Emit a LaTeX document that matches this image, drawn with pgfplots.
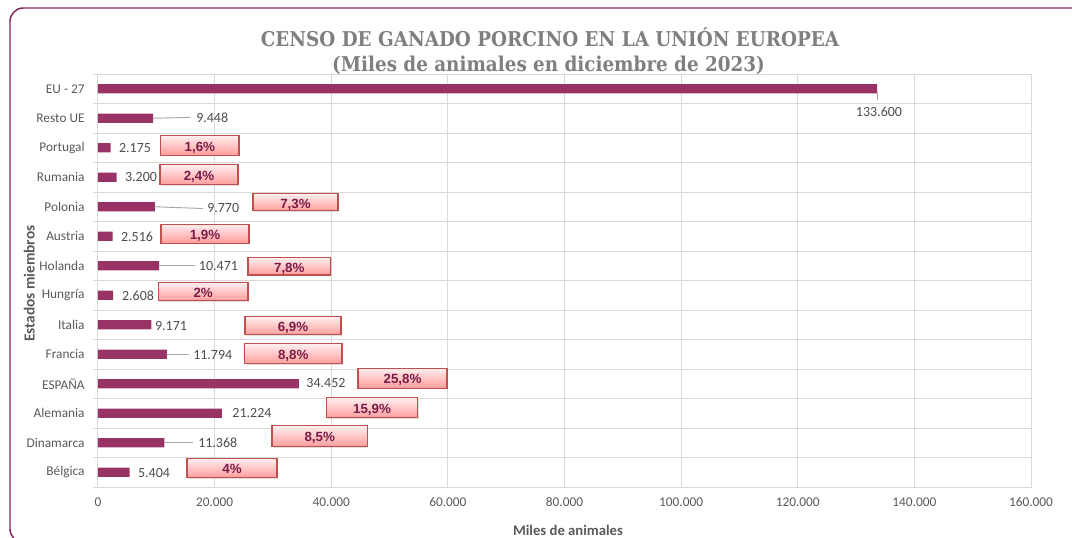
\documentclass[border=0pt]{standalone}
\usepackage{pgfplots}
\pgfplotsset{compat=1.18}
\usepackage{fontspec}
\setmainfont{Carlito}
\newfontfamily\titlefont{DejaVu Serif Condensed}
\newfontfamily\arialfont{Liberation Sans}
\usetikzlibrary{shadows}
\definecolor{barc}{HTML}{993366}
\definecolor{framec}{HTML}{86245A}
\definecolor{gridc}{HTML}{D9D9D9}
\definecolor{tickc}{HTML}{595959}
\definecolor{labc}{HTML}{4D4D4D}
\definecolor{leadc}{HTML}{A6A6A6}
\definecolor{titc}{HTML}{7F7F7F}
\definecolor{pctc}{HTML}{7A1A46}
\definecolor{boxd}{HTML}{C0504D}
\definecolor{boxt}{HTML}{FFEEEE}
\definecolor{boxb}{HTML}{FF9C9C}
\tikzset{
  lab/.style={font=\fontsize{10.5}{12}\selectfont, text=labc, inner sep=0pt},
  pboxstyle/.style={draw=boxd, line width=0.8pt, top color=boxt, bottom color=boxb, inner sep=0pt,
     drop shadow={shadow xshift=0.8pt, shadow yshift=-0.8pt, opacity=0.25}},
  pct/.style={font=\arialfont\bfseries\fontsize{10}{12}\selectfont, text=pctc, inner sep=0pt, anchor=base},
}
\newcommand{\pbox}[5]{%
  \node[pboxstyle, minimum width=#3*0.75pt, minimum height=#4*0.75pt] at (axis cs:#1,#2) {};
  \node[pct, yshift=-4.3pt] at (axis cs:#1,#2) {#5};
}
\begin{document}
\begin{tikzpicture}
\clip (0,0) rectangle (804pt,402.75pt);
\draw[framec, line width=1.1pt, rounded corners=10pt] (7.5pt,396.75pt) rectangle (830pt,-4pt);
\begin{axis}[
  at={(73.5pt,37.5pt)}, anchor=south west,
  scale only axis, width=699.75pt, height=309.75pt,
  xbar, bar width=7pt,
  xmin=0, xmax=160000, ymin=-0.5, ymax=13.5,
  scaled x ticks=false,
  xtick={0,20000,40000,60000,80000,100000,120000,140000,160000},
  xticklabels={0,20.000,40.000,60.000,80.000,100.000,120.000,140.000,160.000},
  ytick={0,...,13},
  yticklabels={Bélgica,Dinamarca,Alemania,ESPAÑA,Francia,Italia,Hungría,Holanda,Austria,Polonia,Rumania,Portugal,Resto UE,EU - 27},
  minor ytick={-0.5,0.5,...,13.5},
  xmajorgrids, yminorgrids,
  grid style={gridc, line width=0.75pt},
  minor grid style={gridc, line width=0.75pt},
  axis line style={gridc, line width=0.75pt},
  major tick length=0pt,
  minor tick length=4pt,
  tick align=outside,
  ytick pos=left, xtick pos=bottom,
  minor tick style={gridc, line width=0.75pt},
  xticklabel style={font=\fontsize{10}{12}\selectfont, text=tickc, yshift=-4.5pt},
  yticklabel style={font=\fontsize{10}{12}\selectfont, text=tickc, xshift=-6.5pt},
]
\addplot[fill=barc, draw=none] coordinates {
  (5404,0) (11368,1) (21224,2) (34452,3) (11794,4) (9171,5) (2608,6)
  (10471,7) (2516,8) (9770,9) (3200,10) (2175,11) (9448,12) (133600,13)};
% leader lines
\draw[leadc, line width=0.7pt] (axis cs:133600,12.88) -- (axis cs:133600,12.62);
\draw[leadc, line width=0.7pt] (axis cs:9448,12) -- (axis cs:15777,12.03);
\draw[leadc, line width=0.7pt] (axis cs:9770,9) -- (axis cs:18006,8.94);
\draw[leadc, line width=0.7pt] (axis cs:10471,7) -- (axis cs:16566,7.0);
\draw[leadc, line width=0.7pt] (axis cs:11794,4) -- (axis cs:15554,4);
\draw[leadc, line width=0.7pt] (axis cs:11368,1) -- (axis cs:16377,1);
% value labels
\node[lab] at (axis cs:133934,12.22) {133.600};
\node[lab, anchor=west] at (axis cs:16806,12.03) {9.448};
\node[lab] at (axis cs:6345,10.98) {2.175};
\node[lab] at (axis cs:7374,10.0) {3.200};
\node[lab, anchor=west] at (axis cs:18692,8.96) {9.770};
\node[lab] at (axis cs:6688,7.98) {2.516};
\node[lab, anchor=west] at (axis cs:17269,7.0) {10.471};
\node[lab] at (axis cs:6860,5.985) {2.608};
\node[lab] at (axis cs:12519,4.96) {9.171};
\node[lab, anchor=west] at (axis cs:16292,3.98) {11.794};
\node[lab] at (axis cs:39100,3.03) {34.452};
\node[lab] at (axis cs:26410,2.01) {21.224};
\node[lab, anchor=west] at (axis cs:17149,1.0) {11.368};
\node[lab] at (axis cs:9603,-0.02) {5.404};
% percentage boxes
\pbox{17466}{11.08}{78.3}{19.3}{1,6\%}
\pbox{17320}{10.08}{78}{20}{2,4\%}
\pbox{33869}{9.15}{85}{17}{7,3\%}
\pbox{18349}{8.09}{88}{19}{1,9\%}
\pbox{32806}{6.98}{82.6}{17.3}{7,8\%}
\pbox{18040}{6.12}{89.6}{18}{2\%}
\pbox{33441}{4.96}{96}{18}{6,9\%}
\pbox{33484}{4.01}{97.5}{20}{8,8\%}
\pbox{52218}{3.19}{89}{20}{25,8\%}
\pbox{46988}{2.18}{91.3}{20}{15,9\%}
\pbox{38020}{1.22}{95.4}{20.7}{8,5\%}
\pbox{22980}{0.14}{90}{19}{4\%}
\end{axis}
% titles
\node[anchor=base, inner sep=0pt, text=titc, font=\titlefont\bfseries\fontsize{15.3}{18}\selectfont] at (412.5pt,367.5pt) {CENSO DE GANADO PORCINO EN LA UNIÓN EUROPEA};
\node[anchor=base, inner sep=0pt, text=titc, font=\titlefont\bfseries\fontsize{15.3}{18}\selectfont] at (411.4pt,348.75pt) {(Miles de animales en diciembre de 2023)};
\node[rotate=90, inner sep=0pt, text=tickc, font=\bfseries\fontsize{11.5}{13}\selectfont] at (22pt,190pt) {Estados miembros};
\node[anchor=south, inner sep=0pt, text=tickc, font=\bfseries\fontsize{11}{13}\selectfont] at (426pt,1pt) {Miles de animales};
\end{tikzpicture}
\end{document}
